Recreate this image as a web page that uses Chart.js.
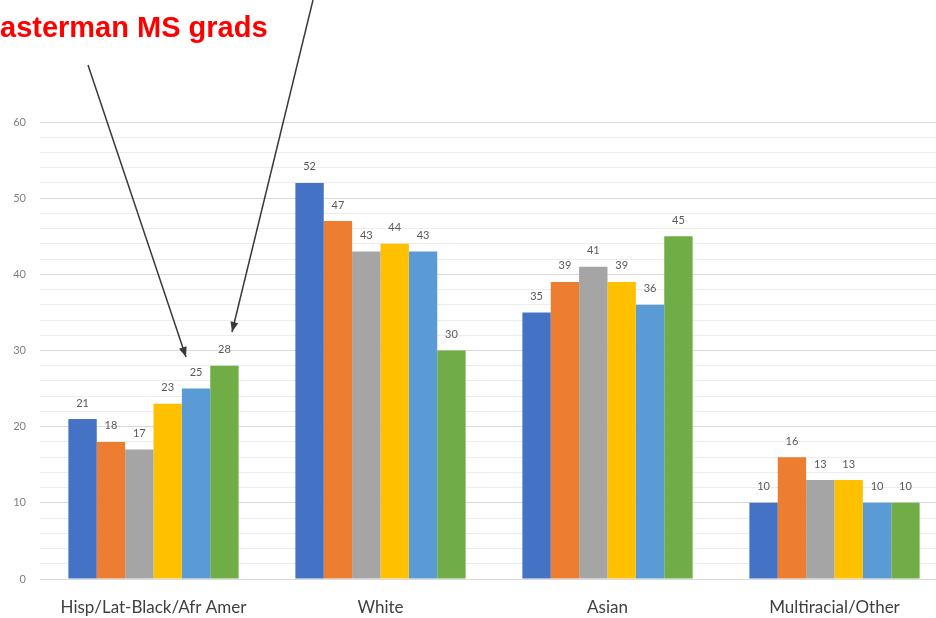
<!DOCTYPE html>
<html>
<head>
<meta charset="utf-8">
<script src="https://cdn.jsdelivr.net/npm/chart.js@4/dist/chart.umd.min.js"></script>
<style>
  html, body { margin: 0; padding: 0; background: #fff; overflow: hidden; }
  #wrap { position: relative; width: 948px; height: 618px; }
</style>
</head>
<body>
<div id="wrap"><canvas id="chart" width="948" height="618"></canvas></div>
<script>
// data
const categories = ['Hisp/Lat-Black/Afr Amer', 'White', 'Asian', 'Multiracial/Other'];
const series1 = [21, 52, 35, 10];
const series2 = [18, 47, 39, 16];
const series3 = [17, 43, 41, 13];
const series4 = [23, 44, 39, 13];
const series5 = [25, 43, 36, 10];
const series6 = [28, 30, 45, 10];
const seriesColors = ['#4472C4', '#ED7D31', '#A5A5A5', '#FFC000', '#5B9BD5', '#70AD47'];
const titleText = 'asterman MS grads';

const allSeries = [series1, series2, series3, series4, series5, series6];

// value labels above each bar
const valueLabels = {
  id: 'valueLabels',
  afterDatasetsDraw(chart) {
    const ctx = chart.ctx;
    ctx.save();
    ctx.font = '11px Lato, "DejaVu Sans", sans-serif';
    ctx.fillStyle = '#595959';
    ctx.textAlign = 'center';
    ctx.textBaseline = 'middle';
    chart.data.datasets.forEach((ds, i) => {
      chart.getDatasetMeta(i).data.forEach((bar, j) => {
        ctx.fillText(ds.data[j], bar.x, bar.y - 16);
      });
    });
    ctx.restore();
  }
};

// red title and arrows
const annotation = {
  id: 'annotation',
  afterDraw(chart) {
    const ctx = chart.ctx;
    ctx.save();
    ctx.font = 'bold 29px "Liberation Sans", Arial, sans-serif';
    ctx.fillStyle = '#FF0000';
    ctx.textBaseline = 'alphabetic';
    ctx.fillText(titleText, 0, 37);

    function arrow(x1, y1, x2, y2) {
      ctx.strokeStyle = '#3a3a3a';
      ctx.fillStyle = '#3a3a3a';
      ctx.lineWidth = 1.5;
      ctx.beginPath();
      ctx.moveTo(x1, y1);
      ctx.lineTo(x2, y2);
      ctx.stroke();
      const a = Math.atan2(y2 - y1, x2 - x1);
      const len = 10, w = 4;
      ctx.beginPath();
      ctx.moveTo(x2, y2);
      ctx.lineTo(x2 - len * Math.cos(a) + w * Math.sin(a), y2 - len * Math.sin(a) - w * Math.cos(a));
      ctx.lineTo(x2 - len * Math.cos(a) - w * Math.sin(a), y2 - len * Math.sin(a) + w * Math.cos(a));
      ctx.closePath();
      ctx.fill();
    }
    arrow(88, 65, 186, 357);
    arrow(313, 0, 232, 332);
    ctx.restore();
  }
};

new Chart(document.getElementById('chart'), {
  type: 'bar',
  data: {
    labels: categories,
    datasets: allSeries.map((s, i) => ({
      data: s,
      backgroundColor: seriesColors[i],
      borderWidth: 0,
      categoryPercentage: 0.75,
      barPercentage: 1
    }))
  },
  options: {
    responsive: false,
    animation: false,
    layout: { padding: { top: 122, left: 0, right: 0, bottom: 0 } },
    plugins: { legend: { display: false }, tooltip: { enabled: false } },
    scales: {
      x: {
        grid: { display: false, drawTicks: false },
        border: { display: false },
        ticks: {
          padding: 18,
          color: '#404040',
          font: { family: 'Lato, "DejaVu Sans", sans-serif', size: 17 }
        },
        afterFit(axis) { axis.height = 39; }
      },
      y: {
        min: 0,
        max: 60,
        border: { display: false },
        grid: {
          drawTicks: false,
          color: (c) => (c.tick && c.tick.value % 10 === 0) ? '#d9d9d9' : '#ececec',
          lineWidth: 1
        },
        ticks: {
          stepSize: 2,
          autoSkip: false,
          padding: 14,
          color: '#7f7f7f',
          font: { family: 'Lato, "DejaVu Sans", sans-serif', size: 11 },
          callback: (v) => (v % 10 === 0 ? v : '')
        },
        afterFit(axis) { axis.width = 40; }
      }
    }
  },
  plugins: [valueLabels, annotation]
});
</script>
</body>
</html>
